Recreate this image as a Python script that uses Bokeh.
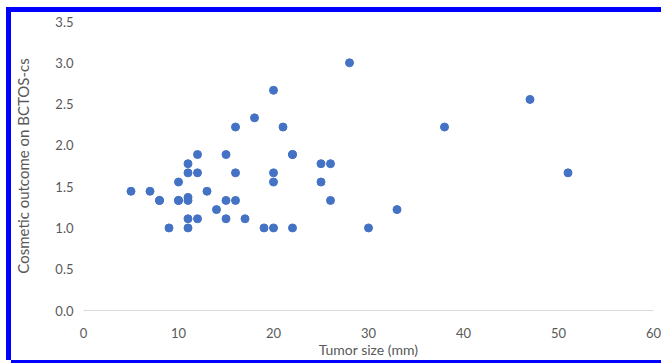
from bokeh.plotting import figure
from bokeh.models import Range1d, FixedTicker, CustomJSTickFormatter
from bokeh.embed import file_html
from bokeh.resources import INLINE

# Data
tumor_size_mm = [5, 7, 8, 8, 9, 10, 10, 10, 11, 11, 11, 11, 11, 11,
                 12, 12, 12, 13, 14, 15, 15, 15, 16, 16, 16, 17, 18, 19,
                 20, 20, 20, 20, 21, 22, 22, 22, 25, 25, 26, 26, 28, 30,
                 33, 38, 47, 51]
bctos_cs = [1.444, 1.444, 1.333, 1.333, 1.0, 1.556, 1.333, 1.333, 1.778, 1.667, 1.37, 1.333, 1.111, 1.0,
            1.889, 1.667, 1.111, 1.444, 1.222, 1.889, 1.333, 1.111, 2.222, 1.667, 1.333, 1.111, 2.333, 1.0,
            2.667, 1.667, 1.556, 1.0, 2.222, 1.889, 1.889, 1.0, 1.778, 1.556, 1.778, 1.333, 3.0, 1.0,
            1.222, 2.222, 2.556, 1.667]
x_ticks = [0, 10, 20, 30, 40, 50, 60]
y_ticks = [0.0, 0.5, 1.0, 1.5, 2.0, 2.5, 3.0, 3.5]
x_title = "Tumor size (mm)"
y_title = "Cosmetic outcome on BCTOS-cs"

FONT = "Lato"
GRAY = "#595959"
BLUE = "#0000ff"

p = figure(width=650, height=348, output_backend="svg", toolbar_location=None,
           x_range=Range1d(0, 60), y_range=Range1d(0, 3.5),
           min_border_left=72, min_border_right=8, min_border_top=9, min_border_bottom=49)
p.styles = {"margin-left": "11px", "margin-top": "12px",
            "box-shadow": (f"-5px 0 0 0 {BLUE}, 0 -5px 0 0 {BLUE}, "
                           f"-5px -5px 0 0 {BLUE}, 0 3px 0 0 {BLUE}")}
p.outline_line_color = None
p.background_fill_color = "white"
p.border_fill_color = "white"
p.xgrid.visible = False
p.ygrid.visible = False

p.scatter(tumor_size_mm, bctos_cs, size=8, color="#4472C4", line_color="#4472C4")

xa = p.xaxis[0]
xa.ticker = FixedTicker(ticks=x_ticks)
xa.axis_line_color = "#d9d9d9"
xa.axis_line_width = 1
xa.major_tick_line_color = None
xa.minor_tick_line_color = None
xa.major_label_standoff = 11
xa.major_label_text_font = FONT
xa.major_label_text_font_size = "13px"
xa.major_label_text_color = GRAY
xa.axis_label = x_title
xa.axis_label_text_font = FONT
xa.axis_label_text_font_size = "14px"
xa.axis_label_text_font_style = "normal"
xa.axis_label_text_color = GRAY
xa.axis_label_standoff = 0

ya = p.yaxis[0]
ya.ticker = FixedTicker(ticks=y_ticks)
ya.formatter = CustomJSTickFormatter(code="return tick.toFixed(1);")
ya.axis_line_color = None
ya.major_tick_line_color = None
ya.minor_tick_line_color = None
ya.major_label_standoff = 4
ya.major_label_text_font = FONT
ya.major_label_text_font_size = "13px"
ya.major_label_text_color = GRAY
ya.axis_label = y_title
ya.axis_label_text_font = FONT
ya.axis_label_text_font_size = "15px"
ya.axis_label_text_font_style = "normal"
ya.axis_label_text_color = GRAY
ya.axis_label_standoff = 20

open("out.html", "w").write(file_html(p, INLINE))
